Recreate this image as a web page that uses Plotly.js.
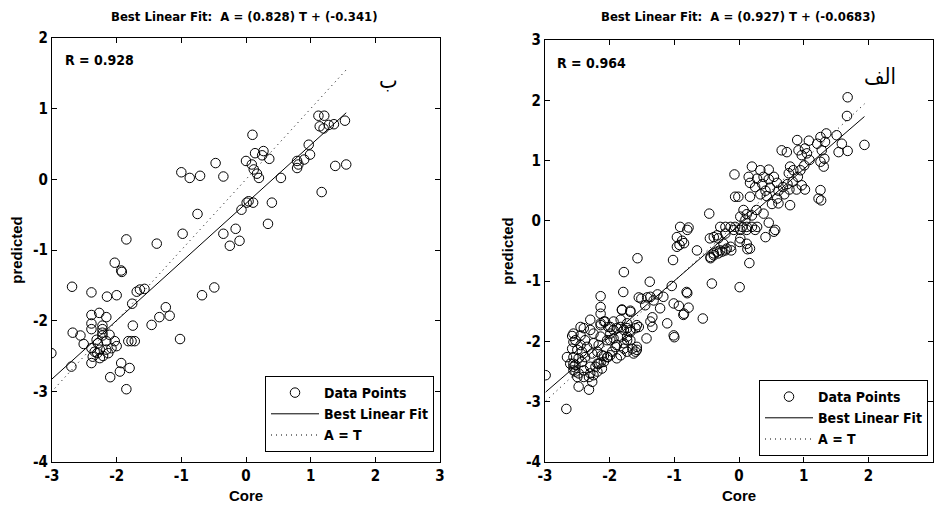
<!DOCTYPE html>
<html>
<head>
<meta charset="utf-8">
<script src="https://cdn.plot.ly/plotly-3.0.1.min.js"></script>
<style>
html,body{margin:0;padding:0;background:#fff;}
#chart{width:935px;height:506px;}
.xtick text, .ytick text, .legendtext, .annotation-text { font-stretch: condensed !important; }
</style>
</head>
<body>
<div id="chart"></div>
<script>
// ---- Left panel (ب) data ----
const leftX = [-1.00,-0.87,-0.71,-0.47,-0.35,0.00,0.10,-0.75,-0.98,-0.07,0.01,-0.35,-0.16,-0.10,-0.25,-1.85,-1.38,
  0.14,0.27,0.25,0.36,0.09,0.12,0.17,0.20,0.54,0.97,0.99,0.90,0.79,0.81,0.79,
  1.12,1.21,1.14,1.20,1.28,1.36,1.53,1.38,1.55,1.17,0.40,0.34,0.11,0.04,
  -2.03,-1.93,-1.92,-2.69,-2.39,-2.15,-2.00,-1.69,-1.64,-1.57,-1.76,-0.68,-0.49,-1.24,-1.34,-1.18,-1.46,-1.02,-1.75,
  -1.82,-1.77,-1.72,
  -2.68,-2.56,-2.51,-2.39,-2.27,-2.16,-2.39,-2.39,-2.22,-2.22,-2.22,-2.22,-2.11,-2.31,-2.16,-2.03,-2.00,-2.39,-2.34,
  -2.26,-2.16,-2.08,-2.37,-2.26,-2.39,-2.21,-2.70,-1.93,-1.80,-1.95,-2.10,-1.85,-3.01,-2.29,-2.13,-2.30];
const leftY = [0.10,0.02,0.05,0.23,0.04,0.26,0.63,-0.49,-0.77,-0.43,-0.33,-0.77,-0.70,-0.87,-0.94,-0.85,-0.91,
  0.37,0.40,0.34,0.29,0.21,0.14,0.08,0.02,0.02,0.49,0.35,0.28,0.26,0.21,0.16,
  0.90,0.90,0.75,0.72,0.77,0.78,0.83,0.19,0.21,-0.18,-0.33,-0.63,-0.33,-0.31,
  -1.18,-1.29,-1.31,-1.52,-1.60,-1.66,-1.64,-1.59,-1.56,-1.55,-1.76,-1.64,-1.53,-1.81,-1.95,-1.93,-2.06,-2.26,-2.07,
  -2.29,-2.29,-2.29,
  -2.17,-2.21,-2.33,-1.92,-1.89,-1.95,-2.04,-2.12,-2.07,-2.12,-2.17,-2.21,-2.20,-2.27,-2.29,-2.29,-2.36,-2.39,-2.44,
  -2.41,-2.41,-2.39,-2.51,-2.53,-2.60,-2.50,-2.65,-2.60,-2.67,-2.72,-2.80,-2.97,-2.46,-2.32,-2.46,-2.46];
const leftFit = {slope: 0.828, intercept: -0.341, R: 0.928};

// ---- Right panel (الف) data ----
const rightX = [1.68,1.67,1.94,1.51,1.59,1.68,1.54,1.35,1.33,1.26,1.21,1.28,1.32,1.31,1.26,
  1.08,0.90,1.02,0.92,0.97,1.05,1.09,1.01,0.95,0.66,0.74,0.79,0.84,0.77,0.91,0.83,0.97,1.02,0.89,1.26,1.23,1.27,
  0.20,0.33,0.46,0.38,0.28,0.15,0.17,0.25,0.36,0.46,0.54,0.59,0.48,0.41,0.33,0.43,0.61,0.68,0.75,0.78,0.70,0.59,0.51,0.61,0.79,
  -0.07,-0.06,-0.01,0.17,0.07,0.12,0.02,0.10,0.20,0.27,0.38,0.46,0.56,0.41,
  0.28,0.20,0.12,0.05,-0.06,-0.13,-0.21,-0.29,-0.32,-0.39,-0.46,0.02,0.12,0.17,
  -0.24,-0.29,-0.34,-0.39,-0.19,-0.13,-0.34,-0.21,-0.08,0.02,0.12,0.25,0.54,0.01,0.13,0.16,-0.12,-0.32,-0.44,-0.42,0.01,
  -0.91,-0.78,-0.80,-0.96,-0.88,-0.92,-0.96,-0.85,-0.45,-0.65,
  -1.57,-1.02,-1.78,-1.38,-0.44,-0.39,-0.26,-0.21,-1.04,-0.81,-0.80,-0.93,-0.86,-0.78,-0.56,-1.11,-1.01,-1.00,
  -1.22,-1.17,-1.26,-1.32,-1.37,-1.42,-1.51,-1.55,-1.45,-1.34,-1.34,-1.43,-1.55,-1.60,-1.68,-1.79,-1.81,-2.14,-2.14,-2.30,-2.58,
  -2.99,-2.67,-2.32,-1.60,-1.58,-1.01,-0.85,-1.37,
  -2.53,-2.45,-2.38,-2.25,-2.14,-2.04,-1.94,-1.83,-1.73,
  -2.50,-2.43,-2.56,-2.48,-2.38,-2.27,-2.19,-2.12,-2.04,-2.09,-2.19,-2.30,-2.40,-2.48,-2.56,-2.32,-2.25,-2.19,-2.53,-2.53,
  -2.30,-2.40,-2.14,-1.99,-1.89,-1.78,-1.68,-1.99,-2.25,-2.45,-2.35,-2.17,-1.91,-1.78,-1.96,-1.89,-2.12,-2.43,
  -2.56,-2.56,-2.50,-2.40,-2.30,-2.22,-2.17,-2.03,
  -1.94,-1.83,-1.73,-1.73,-1.99,-1.89,-1.78,-1.68,
  -1.83,-2.09,-2.14,-2.27,-2.48,-2.61,-2.66,-2.58,-2.56,
  -1.83,-1.68,-1.58,-1.73,-1.63,-1.99,-2.14,-2.45,-2.56,-2.14,-2.07,-2.02,
  -1.81,-1.68,-2.09,-1.94,-1.73,-1.58,-1.65];
const rightY = [2.05,1.74,1.26,1.42,1.28,1.16,1.14,1.45,1.31,1.39,1.28,1.17,1.03,0.90,0.98,
  1.33,1.34,1.20,1.17,1.09,1.12,1.01,0.92,0.84,1.17,1.14,0.90,0.84,0.79,0.73,0.65,0.59,0.52,0.52,0.51,0.37,0.34,
  0.90,0.84,0.85,0.73,0.70,0.73,0.63,0.56,0.61,0.69,0.73,0.63,0.55,0.50,0.44,0.41,0.50,0.56,0.61,0.52,0.44,0.37,0.28,0.29,0.26,
  0.77,0.40,0.40,0.40,0.18,0.11,0.07,0.02,0.09,0.18,0.12,-0.03,-0.15,-0.27,
  -0.10,-0.10,-0.10,-0.10,-0.10,-0.10,-0.10,-0.10,-0.29,-0.27,0.12,-0.29,-0.38,-0.46,
  -0.38,-0.49,-0.51,-0.54,-0.46,-0.43,-0.24,-0.21,-0.15,-0.15,-0.15,-0.15,-0.18,-0.35,-0.47,-0.70,-0.49,-0.54,-0.60,-1.04,-1.10,
  -0.10,-0.11,-0.15,-0.27,-0.33,-0.40,-0.43,-0.37,-0.29,-0.49,
  -0.62,-0.65,-0.85,-1.01,-0.62,-0.57,-0.51,-0.49,-1.08,-1.18,-1.20,-1.41,-1.56,-1.44,-1.62,-1.70,-1.90,-1.93,
  -1.45,-1.26,-1.22,-1.32,-1.26,-1.27,-1.29,-1.27,-1.40,-1.60,-1.76,-1.95,-1.76,-1.78,-1.51,-1.18,-1.48,-1.25,-1.54,-1.64,-1.91,
  -2.56,-3.12,-2.80,-2.17,-2.14,-1.37,-1.54,-1.67,
  -1.98,-2.06,-1.98,-2.03,-1.92,-1.98,-1.95,-1.92,-1.98,
  -2.14,-2.17,-2.26,-2.28,-2.26,-2.20,-2.17,-2.23,-2.26,-2.34,-2.37,-2.42,-2.48,-2.53,-2.42,-2.59,-2.56,-2.50,-2.39,-2.50,
  -1.81,-1.78,-1.73,-1.76,-1.78,-1.81,-1.84,-1.87,-1.87,-1.90,-2.09,-2.06,-2.09,-2.12,-2.17,-2.28,-2.45,-2.34,
  -2.37,-2.48,-2.59,-2.59,-2.53,-2.42,-2.37,-2.26,
  -1.81,-1.76,-1.78,-1.92,-1.98,-2.06,-2.03,-1.98,
  -2.23,-2.24,-2.35,-2.67,-2.75,-2.37,-2.26,-2.12,-2.01,
  -1.64,-1.81,-2.09,-2.17,-2.20,-2.23,-1.43,-1.76,-1.87,-1.70,-1.67,-1.76,
  -1.47,-1.49,-1.67,-1.67,-1.70,-1.73,-2.12];
const rightFit = {slope: 0.927, intercept: -0.0683, R: 0.964};

// ---- text ----
const titleLeft = 'Best Linear Fit:  A = (0.828) T + (-0.341)';
const titleRight = 'Best Linear Fit:  A = (0.927) T + (-0.0683)';
const labelLeft = 'ب';
const labelRight = 'الف';
const legendNames = ['Data Points', 'Best Linear Fit', 'A = T'];
const xTickVals = [-3, -2, -1, 0, 1, 2, 3];
const xTickText = ['-3', '-2', '-1', '0', '1', '2', '3'];
const yTickValsL = [-4, -3, -2, -1, 0, 1, 2];
const yTickTextL = ['-4', '-3', '-2', '-1', '0', '1', '2'];
const yTickValsR = [-4, -3, -2, -1, 0, 1, 2, 3];
const yTickTextR = ['-4', '-3', '-2', '-1', '0', '1', '2', '3'];

// ---- geometry helpers (figure pixels -> paper fractions) ----
const W = 935, H = 506;
const M = {l: 52, r: 2, t: 38, b: 44};
const PW = W - M.l - M.r, PH = H - M.t - M.b;
const px = v => (v - M.l) / PW;
const py = v => (H - M.b - v) / PH;

const NARROW = '"DejaVu Sans Condensed", "DejaVu Sans", sans-serif';
const SANS = '"Liberation Sans", Arial, sans-serif';
const nf = (size) => ({family: NARROW, size: size, color: '#000', weight: 'bold'});

function lineX(xs) { return [Math.min(...xs), Math.max(...xs)]; }

function panelTraces(xs, ys, fit, xa, ya, leg) {
  const lx = lineX(xs);
  return [
    {x: xs, y: ys, xaxis: xa, yaxis: ya, mode: 'markers', type: 'scatter', name: legendNames[0],
     legend: leg, legendgroup: leg + 'a',
     marker: {symbol: 'circle-open', size: 9.5, color: '#000', line: {width: 1, color: '#000'}}},
    {x: lx, y: lx.map(v => fit.slope * v + fit.intercept), xaxis: xa, yaxis: ya, mode: 'lines', type: 'scatter',
     name: legendNames[1], legend: leg, legendgroup: leg + 'b', line: {color: '#000', width: 1}},
    {x: lx, y: lx.slice(), xaxis: xa, yaxis: ya, mode: 'lines', type: 'scatter',
     name: legendNames[2], legend: leg, legendgroup: leg + 'c', line: {color: '#000', width: 1, dash: '1px,4px'}}
  ];
}

const data = [
  ...panelTraces(leftX, leftY, leftFit, 'x', 'y', 'legend'),
  ...panelTraces(rightX, rightY, rightFit, 'x2', 'y2', 'legend2')
];

function axisBase(range, vals, text) {
  return {
    range: range, tickmode: 'array', tickvals: vals, ticktext: text,
    showgrid: false, zeroline: false,
    showline: true, linecolor: '#000', linewidth: 1, mirror: 'ticks',
    ticks: 'inside', ticklen: 5, tickwidth: 1, tickcolor: '#000',
    tickfont: nf(15), fixedrange: true
  };
}

const axTitle = (t, s) => ({text: t, font: {family: SANS, size: 15, color: '#000', weight: 'bold'}, standoff: s});

const legendBase = {xanchor: 'right', yanchor: 'bottom', bordercolor: '#000', borderwidth: 1,
  bgcolor: '#fff', traceorder: 'grouped', tracegroupgap: 0, itemwidth: 48, font: nf(14)};

const layout = {
  width: W, height: H, margin: M, paper_bgcolor: '#fff', plot_bgcolor: '#fff', showlegend: true,
  xaxis: Object.assign(axisBase([-3, 3], xTickVals, xTickText), {domain: [0, px(440)], anchor: 'y', title: axTitle('Core', 6)}),
  yaxis: Object.assign(axisBase([-4, 2], yTickValsL, yTickTextL), {domain: [0, 1], anchor: 'x', title: axTitle('predicted', 6)}),
  xaxis2: Object.assign(axisBase([-3, 3], xTickVals, xTickText), {domain: [px(545), 1], anchor: 'y2', title: axTitle('Core', 6)}),
  yaxis2: Object.assign(axisBase([-4, 3], yTickValsR, yTickTextR), {domain: [0, py(40)], anchor: 'x2', title: axTitle('predicted', 8)}),
  legend: Object.assign({x: px(434), y: py(452)}, legendBase),
  legend2: Object.assign({x: px(928), y: py(456)}, legendBase),
  annotations: [
    {text: titleLeft, xref: 'paper', yref: 'paper', x: px(244), y: py(17), xanchor: 'center', yanchor: 'middle', showarrow: false, font: nf(13)},
    {text: titleRight, xref: 'paper', yref: 'paper', x: px(738), y: py(17), xanchor: 'center', yanchor: 'middle', showarrow: false, font: nf(13)},
    {text: 'R = ' + leftFit.R.toFixed(3), xref: 'paper', yref: 'paper', x: px(63), y: py(60), xanchor: 'left', yanchor: 'middle', showarrow: false, font: nf(14)},
    {text: 'R = ' + rightFit.R.toFixed(3), xref: 'paper', yref: 'paper', x: px(555), y: py(63), xanchor: 'left', yanchor: 'middle', showarrow: false, font: nf(14)},
    {text: labelLeft, xref: 'paper', yref: 'paper', x: px(388), y: py(80), xanchor: 'center', yanchor: 'middle', showarrow: false,
     font: {family: '"DejaVu Sans", sans-serif', size: 22, color: '#000'}},
    {text: labelRight, xref: 'paper', yref: 'paper', x: px(880), y: py(77), xanchor: 'center', yanchor: 'middle', showarrow: false,
     font: {family: '"DejaVu Sans", sans-serif', size: 22, color: '#000'}}
  ]
};

Plotly.newPlot('chart', data, layout, {displayModeBar: false, staticPlot: true});
</script>
</body>
</html>
